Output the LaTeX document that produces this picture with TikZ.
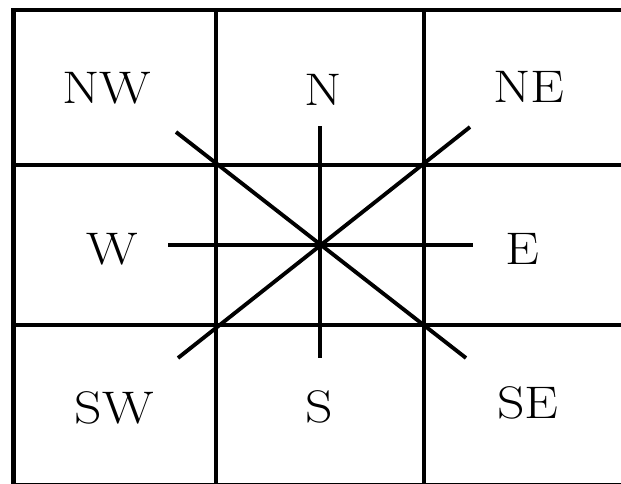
\documentclass[tikz,border=0pt]{standalone}
\usepackage{tikz}
\usetikzlibrary{positioning,calc}
\tikzset{
    grade/.style={line width=2.3pt},
    rosa/.style={line width=2.2pt},
    rotulo/.style={inner sep=0pt, font=\fontsize{26}{30}\selectfont}
}
\newcommand{\largo}[1]{\scalebox{1.18}[1]{#1}}

\begin{document}
\begin{tikzpicture}
    % Area visivel
    \useasboundingbox (0,0) rectangle (12.42,9.66);
    \clip (0,0) rectangle (12.42,9.66);

    % Grade 3x3
    \draw[grade] (0.27,-0.05) rectangle (12.62,9.46);
    \draw[grade] (4.32,-0.05) -- (4.32,9.46);
    \draw[grade] (8.48,-0.05) -- (8.48,9.46);
    \draw[grade] (0.27,6.36) -- (12.62,6.36);
    \draw[grade] (0.27,3.16) -- (12.62,3.16);

    % Rosa dos ventos
    \coordinate (c) at (6.40,4.76);
    \coordinate (n) at (6.40,7.14);
    \coordinate (s) at (6.40,2.50);
    \coordinate (w) at (3.36,4.76);
    \coordinate (e) at (9.46,4.76);
    \coordinate (nw) at (3.52,7.02);
    \coordinate (se) at (9.32,2.50);
    \coordinate (ne) at (9.40,7.12);
    \coordinate (sw) at (3.56,2.50);
    \draw[rosa] (n) -- (s);
    \draw[rosa] (w) -- (e);
    \draw[rosa] (nw) -- (se);
    \draw[rosa] (ne) -- (sw);

    % Rotulos
    \node[rotulo] (lnw) at (2.14,7.90) {\largo{NW}};
    \node[rotulo] (ln) at (6.47,7.87) {\largo{N}};
    \node[rotulo] (lne) at (10.58,7.92) {\largo{NE}};
    \node[rotulo] (lw) at (2.24,4.68) {\largo{W}};
    \node[rotulo] (le) at (10.44,4.68) {\largo{E}};
    \node[rotulo] (lsw) at (2.28,1.50) {\largo{SW}};
    \node[rotulo] (ls) at (6.38,1.52) {\largo{S}};
    \node[rotulo] (lse) at (10.56,1.60) {\largo{SE}};
\end{tikzpicture}
\end{document}
